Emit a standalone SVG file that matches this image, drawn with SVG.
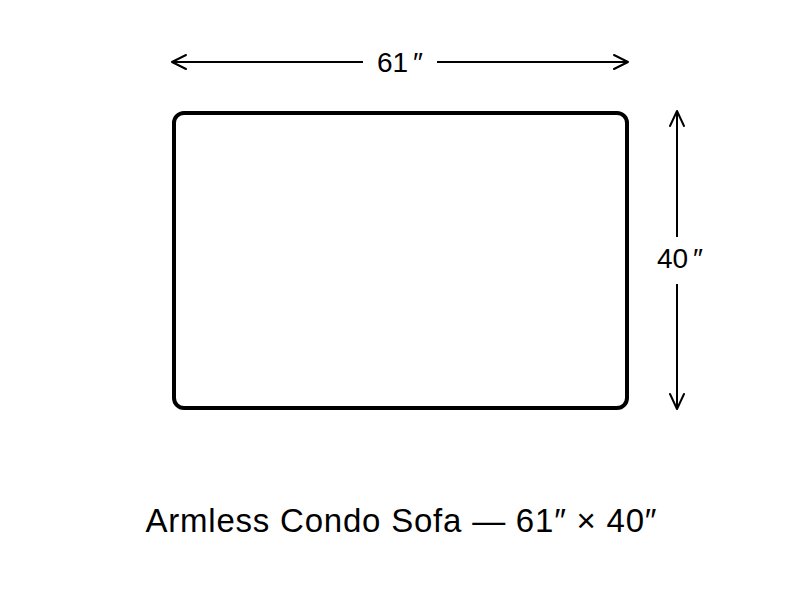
<svg xmlns="http://www.w3.org/2000/svg" width="800" height="600" viewBox="0 0 800 600">
<style>
.dim{stroke:#000;stroke-width:2;fill:none}
.head{stroke:#000;stroke-width:2;fill:none;stroke-linecap:round;stroke-linejoin:round}
.lbl{font-family:"Liberation Sans",Arial,sans-serif;font-size:28px;fill:#000;text-anchor:middle}
.cap{font-family:"Liberation Sans",Arial,sans-serif;font-size:33px;fill:#000;text-anchor:middle}
</style>
<rect width="800" height="600" fill="#fff"/>
<g id="sofa">
<rect x="174" y="113" width="453" height="295" rx="10" ry="10" fill="#fff" stroke="#000" stroke-width="4"/>
</g>
<g id="connectors">
<line class="dim" x1="172" y1="62" x2="363" y2="62"/>
<line class="dim" x1="437" y1="62" x2="628" y2="62"/>
<polyline class="head" points="186,55 172,62 186,69"/>
<polyline class="head" points="614,55 628,62 614,69"/>
<line class="dim" x1="677" y1="111" x2="677" y2="237"/>
<line class="dim" x1="677" y1="284" x2="677" y2="409"/>
<polyline class="head" points="670,126 677,111 684,126"/>
<polyline class="head" points="670,394 677,409 684,394"/>
</g>
<g id="labels">
<text class="lbl" x="400" y="72">61<tspan dx="5">″</tspan></text>
<text class="lbl" x="680" y="268">40<tspan dx="5">″</tspan></text>
<text class="cap" x="401" y="532" textLength="511" lengthAdjust="spacing">Armless Condo Sofa — 61″ × 40″</text>
</g>
</svg>
